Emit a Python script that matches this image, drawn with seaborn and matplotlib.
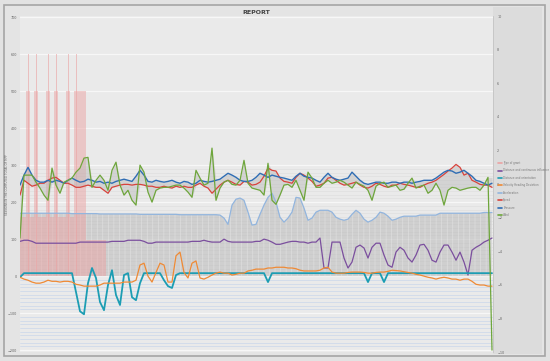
import matplotlib
matplotlib.use("Agg")
import matplotlib.pyplot as plt
from matplotlib.patches import Rectangle
import seaborn as sns
import numpy as np

# ---- data (one value per sample, 119 samples) ----
speed = [219, 259, 251, 243, 246, 251, 251, 259, 265, 267,
         259, 251, 251, 246, 240, 240, 243, 246, 243, 240,
         240, 232, 224, 240, 243, 246, 248, 248, 246, 248,
         248, 246, 243, 243, 240, 240, 243, 240, 238, 243,
         240, 243, 240, 240, 246, 251, 243, 238, 224, 235,
         246, 254, 259, 254, 248, 246, 256, 254, 246, 248,
         254, 270, 292, 286, 284, 265, 256, 254, 251, 267,
         278, 273, 265, 256, 243, 246, 251, 265, 267, 259,
         251, 246, 248, 251, 254, 246, 240, 238, 243, 251,
         248, 243, 240, 246, 246, 251, 248, 246, 243, 240,
         240, 246, 251, 254, 259, 267, 275, 284, 292, 302,
         294, 273, 278, 259, 254, 248, 246, 246, 240]

pressure = [246, 273, 294, 273, 259, 254, 254, 259, 254, 259,
            256, 251, 259, 265, 259, 254, 256, 262, 259, 254,
            256, 251, 254, 251, 256, 259, 262, 259, 256, 270,
            286, 273, 256, 254, 259, 256, 254, 256, 259, 254,
            251, 256, 254, 248, 251, 259, 256, 254, 256, 259,
            262, 270, 278, 273, 267, 259, 256, 256, 259, 267,
            278, 273, 267, 273, 270, 267, 265, 262, 259, 270,
            278, 270, 267, 265, 259, 254, 267, 278, 267, 262,
            259, 262, 265, 281, 270, 259, 251, 248, 251, 254,
            254, 251, 251, 254, 254, 251, 254, 254, 251, 254,
            256, 259, 259, 259, 265, 273, 281, 286, 284, 278,
            281, 286, 278, 270, 259, 256, 251, 246, 251]

wind = [103, 273, 273, 273, 254, 238, 219, 205, 292, 246,
        224, 254, 259, 265, 281, 292, 319, 321, 240, 259,
        273, 259, 232, 286, 308, 246, 219, 232, 205, 192,
        300, 281, 227, 200, 232, 238, 240, 240, 243, 246,
        246, 238, 227, 213, 286, 265, 246, 251, 346, 205,
        238, 254, 259, 248, 246, 259, 313, 251, 238, 235,
        232, 219, 305, 205, 194, 219, 246, 248, 240, 259,
        232, 205, 281, 265, 240, 240, 251, 259, 251, 254,
        259, 254, 246, 238, 254, 248, 243, 232, 205, 243,
        251, 254, 240, 243, 246, 232, 235, 251, 265, 238,
        243, 246, 224, 232, 251, 232, 192, 232, 240, 238,
        232, 235, 238, 240, 240, 232, 246, 267, -200]

acceleration = [170, 170, 170, 170, 170, 170, 170, 170, 170, 170,
                170, 170, 170, 169, 169, 169, 169, 169, 169, 169,
                168, 168, 168, 168, 168, 168, 168, 168, 168, 168,
                167, 167, 167, 167, 167, 167, 167, 167, 167, 167,
                166, 166, 166, 166, 166, 166, 166, 166, 166, 166,
                165, 157, 140, 192, 208, 211, 205, 173, 138, 140,
                167, 192, 213, 224, 200, 159, 146, 157, 173, 213,
                211, 184, 151, 157, 173, 178, 178, 178, 173, 159,
                154, 151, 154, 167, 178, 170, 154, 146, 151, 159,
                173, 170, 162, 151, 154, 159, 162, 162, 162, 162,
                165, 165, 165, 165, 165, 170, 170, 170, 170, 170,
                170, 170, 170, 170, 170, 170, 172, 172, 172]

influence = [94, 97, 97, 94, 89, 89, 89, 89, 89, 89,
             89, 89, 89, 89, 89, 92, 92, 92, 92, 92,
             92, 92, 92, 94, 94, 94, 94, 97, 97, 97,
             97, 94, 89, 89, 92, 92, 92, 92, 92, 92,
             92, 92, 92, 94, 94, 94, 97, 94, 92, 92,
             92, 100, 94, 92, 92, 92, 92, 92, 92, 94,
             94, 100, 97, 92, 86, 86, 89, 92, 94, 94,
             92, 92, 89, 92, 92, 103, 22, 22, 92, 92,
             92, 49, 22, 38, 78, 84, 76, 49, 78, 89,
             89, 57, 30, 24, 65, 78, 70, 49, 38, 57,
             84, 86, 70, 43, 38, 65, 84, 84, 65, 43,
             65, 38, 3, 70, 78, 84, 92, 97, 103]

orientation = [-3, 8, 8, 8, 8, 8, 8, 8, 8, 8,
               8, 8, 8, 8, -43, -95, -103, -19, 22, -5,
               -70, -92, -24, 16, -51, -78, 3, 8, -57, -65,
               -19, 8, 8, 8, 8, 8, -11, -27, -32, 3,
               8, 8, 8, 8, 8, 8, 8, 8, 8, 8,
               8, 8, 8, 8, 8, 8, 8, 8, 8, 8,
               8, 8, -16, 8, 8, 8, 8, 8, 8, 8,
               8, 8, 8, 8, 8, 8, 8, 8, 8, 8,
               8, 8, 8, 8, 8, 8, 8, -16, 8, 8,
               8, -16, 8, 8, 8, 8, 8, 8, 8, 8,
               8, 8, 8, 8, 8, 8, 8, 8, 8, 8,
               8, 8, 8, 8, 8, 8, 8, 8, 8]

heading = [-3, -8, -11, -16, -19, -19, -16, -11, -14, -14,
           -16, -14, -14, -16, -22, -24, -27, -27, -27, -27,
           -24, -19, -19, -19, -19, -19, -16, -16, -16, -11,
           30, 35, 0, -16, 10, 35, 30, -16, -16, 55,
           65, 10, -5, 35, 41, -5, -8, -3, 3, 8,
           11, 8, 8, 3, 5, 8, 8, 14, 16, 19,
           19, 19, 22, 22, 24, 24, 24, 22, 22, 20,
           16, 14, 14, 14, 14, 16, 22, 24, 11, 8,
           8, 8, 10, 11, 11, 11, 10, 8, 8, 10,
           11, 11, 13, 16, 15, 14, 12, 10, 8, 5,
           3, 0, -3, -5, -8, -5, -3, -5, -8, -8,
           -11, -8, -8, -14, -22, -24, -24, -27, -27]

grant = [160, 160, 500, 160, 500, 160, 160, 500, 160, 500,
         160, 160, 500, 160, 500, 500, 500, 97, 97, 97, 97, 97]
grant_peak = [0, 0, 600, 0, 600, 0, 0, 600, 0, 600,
              0, 0, 600, 0, 600, 0, 0, 0, 0, 0, 0, 0]

labels = ["Type of grant", "Distance and continuous influence",
          "Distance and orientation", "Velocity Heading Deviation",
          "Acceleration", "Speed", "Pressure", "Wind"]
colors = ["#eba3a3", "#7b4f9e", "#1c9db3", "#ef8a35",
          "#92b5de", "#d8433c", "#2f6db4", "#6ea63b"]

x = np.arange(len(speed))

sns.set_theme(style="white")
plt.rcParams["font.family"] = ["DejaVu Sans"]
plt.rcParams["hatch.linewidth"] = 0.4

fig = plt.figure(figsize=(5.5, 3.61), dpi=100)
fig.patch.set_facecolor("#e2e2e2")
fig.patches.append(Rectangle((0.008, 0.014), 0.983, 0.972, transform=fig.transFigure,
                             facecolor="#e4e4e4", edgecolor="#a5a5a5", lw=1.2, zorder=-5))
fig.patches.append(Rectangle((0.896, 0.02), 0.09, 0.96, transform=fig.transFigure,
                             facecolor="#dcdcdc", edgecolor="none", zorder=-4))

ax = fig.add_axes([20 / 550, 9 / 361, 473 / 550, 336 / 361])
ax.set_facecolor("#eaeaea")
ax.set_xlim(0, 118.25)
ax.set_ylim(-205, 703)

# grid lines
for v in range(-200, 0, 10):
    ax.axhline(v, color="#c9d7ea", lw=0.5, zorder=0)
for v in range(0, 300, 10):
    ax.axhline(v, color="#dcdcdc", lw=0.4, zorder=0)
for v in range(-200, 800, 100):
    ax.axhline(v, color="#f7f7f7", lw=0.9, zorder=0)

# hatched fill under acceleration
ax.fill_between(x, 0, acceleration, facecolor="#bdbdbd", alpha=0.6,
                hatch="|||", edgecolor="#f0f0f0", lw=0, zorder=1)

# type of grant bars
ax.bar(np.arange(len(grant)), grant, width=1.0, color=colors[0], alpha=0.5, lw=0, zorder=2)
ax.bar(np.arange(len(grant_peak)), grant_peak, width=0.25, color=colors[0], alpha=0.6, lw=0, zorder=2)

# grey band between speed / pressure / wind
wind_cap = wind[:-1] + [wind[-2]]
lo = np.minimum(np.minimum(speed, pressure), wind_cap)
hi = np.maximum(np.maximum(speed, pressure), wind_cap)
ax.fill_between(x, lo, hi, color="#b9b9b9", alpha=0.45, lw=0, zorder=2)

series = [influence, orientation, heading, acceleration, speed, pressure, wind]
widths = [0.9, 1.3, 0.9, 0.9, 0.9, 1.0, 0.9]
for s, c, w, lab in zip(series, colors[1:], widths, labels[1:]):
    sns.lineplot(x=x, y=s, ax=ax, color=c, lw=w, zorder=3, label=lab, legend=False)

ax.set_yticks(range(-200, 800, 100))
ax.set_xticks([])
ax.tick_params(axis="y", labelsize=2.4, labelcolor="#666666", length=0, pad=2)
for sp in ax.spines.values():
    sp.set_visible(False)
ax.set_xlabel("")
ax.set_ylabel("")

ax2 = ax.twinx()
ax2.set_ylim(-10, 10)
ax2.set_yticks(range(-10, 12, 2))
ax2.tick_params(axis="y", labelsize=2.4, labelcolor="#666666", length=0, pad=3)
for sp in ax2.spines.values():
    sp.set_visible(False)
ax2.spines["right"].set_visible(True)
ax2.spines["right"].set_color("#c4c4c4")
ax2.spines["right"].set_linewidth(0.6)

handles = [plt.Line2D([], [], color=c, lw=1.2) for c in colors]
fig.legend(handles, labels, loc="upper left", bbox_to_anchor=(497 / 550, 1 - 160 / 361),
           frameon=False, fontsize=1.9, labelcolor="#777777", handlelength=1.6,
           labelspacing=1.3, handletextpad=0.4, borderaxespad=0)

fig.text(256 / 550, 1 - 12 / 361, "REPORT", ha="center", va="center",
         fontsize=4.5, weight="bold", color="#444444")
fig.text(7 / 550, 1 - 185 / 361, "SESSIONS IN THE COMPUTED TOTAL OF MPP",
         rotation=90, ha="center", va="center", fontsize=2.0, color="#666666")

fig.savefig("out.png", dpi=100, facecolor=fig.get_facecolor())
